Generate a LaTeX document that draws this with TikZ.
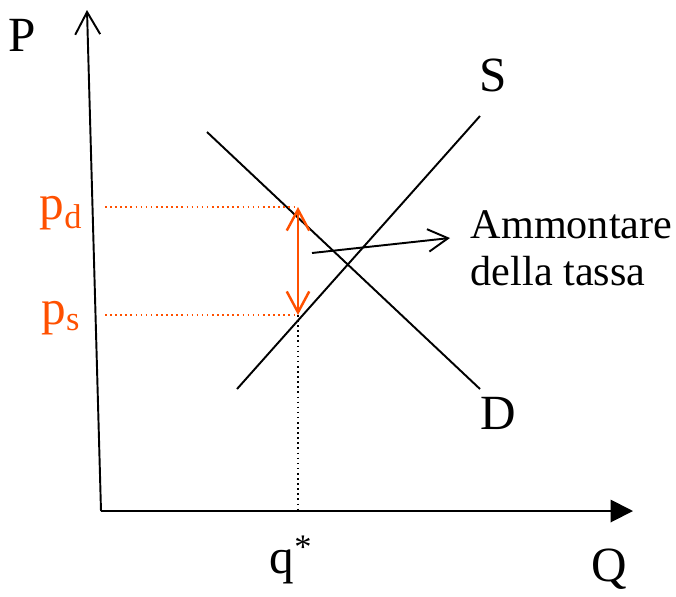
\documentclass[tikz,border=0pt]{standalone}
\usepackage{fontspec}
\setmainfont{Liberation Serif}
\usetikzlibrary{arrows.meta}
\definecolor{taxorange}{RGB}{255,80,0}

\begin{document}
\begin{tikzpicture}[x=0.02cm, y=-0.02cm, line width=1.1pt,
    font=\fontsize{24}{27}\selectfont,
    axislabel/.style={font=\fontsize{28}{30}\selectfont}]
    \useasboundingbox (0,0) rectangle (676,596);

    % Place the axis end points
    \coordinate (O) at (101,511);
    \coordinate (Ptop) at (87,10);
    \coordinate (Qend) at (633,511);

    % Place the curve end points
    \coordinate (S1) at (237,389);
    \coordinate (S2) at (480,116);
    \coordinate (D1) at (207,132);
    \coordinate (D2) at (480,389);

    % Place the prices and the quantity
    \coordinate (PD) at (298,207);
    \coordinate (PS) at (298,315);
    \coordinate (PDaxis) at (105,207);
    \coordinate (PSaxis) at (105,315);
    \coordinate (QS) at (298,511);

    % Place the labels
    \node (P) [axislabel] at (22,35) {P};
    \node (Q) [axislabel] at (609,569) {Q};
    \node (qstar) [axislabel] at (291,560) {q\textsuperscript{*}};
    \node (S) [axislabel] at (493,75) {S};
    \node (D) [axislabel] at (498,413) {D};
    \node (pd) [axislabel, text=taxorange] at (61,213) {p\textsubscript{d}};
    \node (ps) [axislabel, text=taxorange] at (61,318) {p\textsubscript{s}};
    \node (tax) [anchor=west, align=left] at (464,248) {Ammontare\\della tassa};
    \coordinate (T1) at (312,253);
    \coordinate (T2) at (450,238);

    % Draw the axes
    \draw[-{Straight Barb[length=0.45cm, width=0.5cm]}] (O) -- (Ptop);
    \draw[-{Triangle[length=0.45cm, width=0.45cm]}] (O) -- (Qend);

    % Draw supply and demand
    \draw (S1) -- (S2);
    \draw (D1) -- (D2);

    % Draw the dotted guides
    \draw[taxorange, dotted, line width=0.9pt] (PDaxis) -- (PD);
    \draw[taxorange, dotted, line width=0.9pt] (PSaxis) -- (PS);
    \draw[dotted, line width=0.9pt] (PS) -- (QS);

    % Draw the arrows
    \draw[taxorange, line width=1.4pt,
        {Straight Barb[length=0.42cm, width=0.45cm]}-{Straight Barb[length=0.42cm, width=0.45cm]}]
        (PD) -- (PS);
    \draw[-{Straight Barb[length=0.4cm, width=0.45cm]}] (T1) -- (T2);
\end{tikzpicture}
\end{document}
